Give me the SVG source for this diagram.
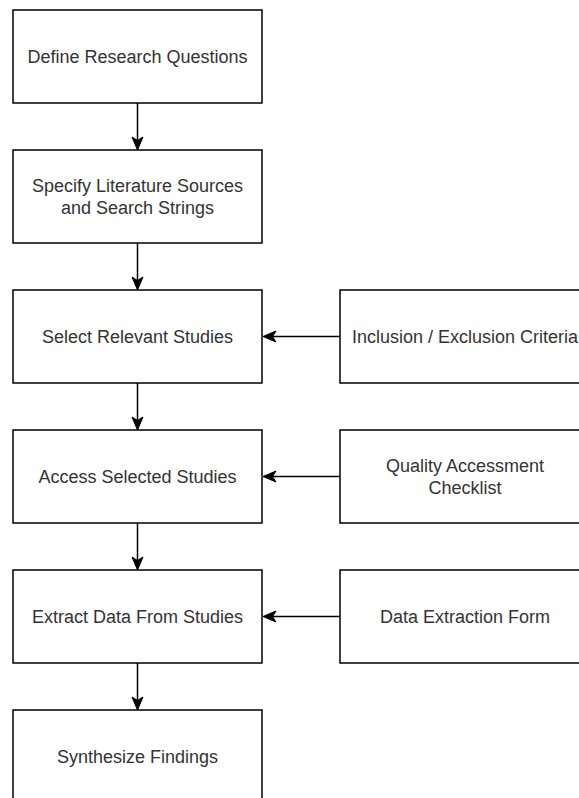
<svg xmlns="http://www.w3.org/2000/svg" width="579" height="798" viewBox="0 0 579 798">
  <style>
    .box { fill: #ffffff; stroke: #000000; stroke-width: 1.5; }
    .label { font-family: "Liberation Sans", Arial, Helvetica, sans-serif; font-size: 18px; fill: #333333; text-anchor: middle; dominant-baseline: central; }
    .edge { fill: none; stroke: #000000; stroke-width: 1.5; }
    .head { fill: #000000; stroke: #000000; stroke-width: 1; stroke-linejoin: miter; }
  </style>
  <defs>
    <!-- classic notched arrowhead, tip at origin pointing along +x -->
    <path id="tip" class="head" d="M0,0 L-13,-5.5 L-9.5,0 L-13,5.5 Z"/>
  </defs>
  <rect width="579" height="798" fill="#ffffff"/>

  <!-- main process column -->
  <g id="define-questions">
    <rect class="box" x="13" y="10" width="249" height="93"/>
    <text class="label" x="137.5" y="56.5">Define Research Questions</text>
  </g>
  <g id="specify-sources">
    <rect class="box" x="13" y="150" width="249" height="93"/>
    <text class="label" x="137.5" y="185.5">Specify Literature Sources</text>
    <text class="label" x="137.5" y="207.5">and Search Strings</text>
  </g>
  <g id="select-studies">
    <rect class="box" x="13" y="290" width="249" height="93"/>
    <text class="label" x="137.5" y="336.5">Select Relevant Studies</text>
  </g>
  <g id="access-studies">
    <rect class="box" x="13" y="430" width="249" height="93"/>
    <text class="label" x="137.5" y="476.5">Access Selected Studies</text>
  </g>
  <g id="extract-data">
    <rect class="box" x="13" y="570" width="249" height="93"/>
    <text class="label" x="137.5" y="616.5">Extract Data From Studies</text>
  </g>
  <g id="synthesize">
    <rect class="box" x="13" y="710" width="249" height="93"/>
    <text class="label" x="137.5" y="756.5">Synthesize Findings</text>
  </g>

  <!-- supporting inputs column -->
  <g id="criteria">
    <rect class="box" x="340" y="290" width="250" height="93"/>
    <text class="label" x="465" y="336.5">Inclusion / Exclusion Criteria</text>
  </g>
  <g id="checklist">
    <rect class="box" x="340" y="430" width="250" height="93"/>
    <text class="label" x="465" y="465.5">Quality Accessment</text>
    <text class="label" x="465" y="487.5">Checklist</text>
  </g>
  <g id="extraction-form">
    <rect class="box" x="340" y="570" width="250" height="93"/>
    <text class="label" x="465" y="616.5">Data Extraction Form</text>
  </g>

  <!-- connectors -->
  <g id="connectors">
    <line class="edge" x1="137.5" y1="103" x2="137.5" y2="141"/>
    <use href="#tip" transform="translate(137.5,150) rotate(90)"/>
    <line class="edge" x1="137.5" y1="243" x2="137.5" y2="281"/>
    <use href="#tip" transform="translate(137.5,290) rotate(90)"/>
    <line class="edge" x1="137.5" y1="383" x2="137.5" y2="421"/>
    <use href="#tip" transform="translate(137.5,430) rotate(90)"/>
    <line class="edge" x1="137.5" y1="523" x2="137.5" y2="561"/>
    <use href="#tip" transform="translate(137.5,570) rotate(90)"/>
    <line class="edge" x1="137.5" y1="663" x2="137.5" y2="701"/>
    <use href="#tip" transform="translate(137.5,710) rotate(90)"/>

    <line class="edge" x1="340" y1="336.5" x2="272" y2="336.5"/>
    <use href="#tip" transform="translate(263,336.5) rotate(180)"/>
    <line class="edge" x1="340" y1="476.5" x2="272" y2="476.5"/>
    <use href="#tip" transform="translate(263,476.5) rotate(180)"/>
    <line class="edge" x1="340" y1="616.5" x2="272" y2="616.5"/>
    <use href="#tip" transform="translate(263,616.5) rotate(180)"/>
  </g>
</svg>
